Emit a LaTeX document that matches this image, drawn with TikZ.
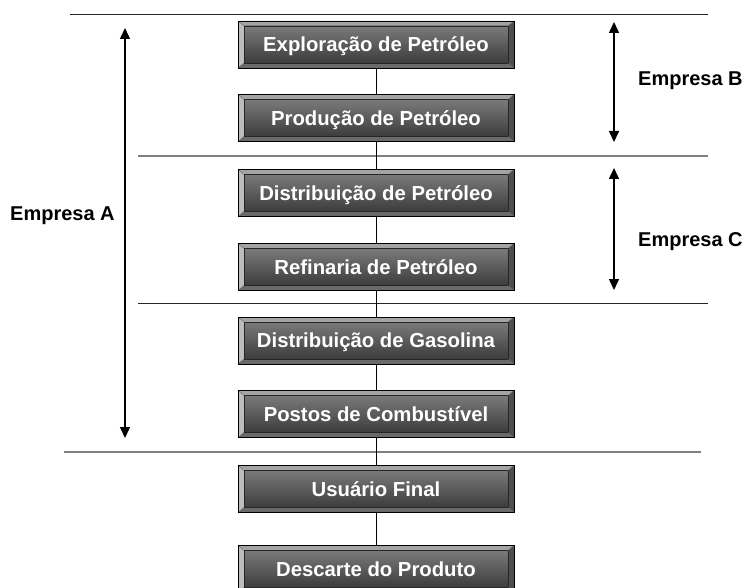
\documentclass[tikz,border=0pt]{standalone}
\usepackage{fontspec}
\setmainfont{Liberation Sans}
\usetikzlibrary{calc,arrows.meta}
\definecolor{bevTop}{HTML}{A4A4A4}
\definecolor{bevLeft}{HTML}{BDBDBD}
\definecolor{bevRight}{HTML}{4E4E4E}
\definecolor{bevBot}{HTML}{6A6A6A}
\definecolor{faceTop}{HTML}{7A7A7A}
\definecolor{faceMid}{HTML}{8E8E8E}
\definecolor{faceBot}{HTML}{3C3C3C}
\definecolor{sepgray}{HTML}{808080}
\tikzset{
  bev/.style={
    rectangle, draw=black, line width=0.8pt,
    minimum width=276pt, minimum height=47pt, inner sep=0pt,
    text height=14.6pt, text depth=0pt,
    text=white, font=\bfseries\fontsize{20.3}{23}\selectfont,
    path picture={
      \path (path picture bounding box.south west) coordinate (sw)
            (path picture bounding box.north east) coordinate (ne)
            (path picture bounding box.north west) coordinate (nw)
            (path picture bounding box.south east) coordinate (se);
      \path ($(sw)+(6pt,5pt)$) coordinate (isw)
            ($(ne)+(-6pt,-5pt)$) coordinate (ine)
            ($(nw)+(6pt,-5pt)$) coordinate (inw)
            ($(se)+(-6pt,5pt)$) coordinate (ise);
      \fill[bevTop] (nw) -- (ne) -- (ine) -- (inw) -- cycle;
      \fill[bevLeft] (nw) -- (inw) -- (isw) -- (sw) -- cycle;
      \fill[bevRight] (ne) -- (se) -- (ise) -- (ine) -- cycle;
      \fill[bevBot] (sw) -- (isw) -- (ise) -- (se) -- cycle;
      \shade[top color=faceTop, middle color=faceMid, bottom color=faceBot] (isw) rectangle (ine);
      \draw[line width=0.6pt, black!85] (isw) rectangle (ine);
      \draw[line width=0.4pt, black!60] (nw) -- (inw) (ne) -- (ine) (sw) -- (isw) (se) -- (ise);
    }},
  conn/.style={draw=black, line width=0.8pt},
  sepblack/.style={draw=black!85, line width=1pt},
  sepgrey/.style={draw=sepgray, line width=1.4pt},
  dbl/.style={{Triangle[width=10pt,length=11pt]}-{Triangle[width=10pt,length=11pt]}, line width=1.5pt},
  lab/.style={anchor=base west, inner sep=0pt, font=\bfseries\fontsize{20}{23}\selectfont}
}
\begin{document}
\begin{tikzpicture}[x=1pt, y=-1pt]
\useasboundingbox (0,0) rectangle (744,588);
% separator lines
\coordinate (l1a) at (70,15);  \coordinate (l1b) at (708,15);
\coordinate (l2a) at (138,156); \coordinate (l2b) at (708,156);
\coordinate (l3a) at (138,303); \coordinate (l3b) at (708,303);
\coordinate (l4a) at (64,452);  \coordinate (l4b) at (701,452);
\draw[sepblack] (l1a) -- (l1b);
\draw[sepgrey] (l2a) -- (l2b);
\draw[sepblack] (l3a) -- (l3b);
\draw[sepgrey] (l4a) -- (l4b);
% boxes
\node[bev] (b1) at (376,44.5) {Exploração de Petróleo};
\node[bev] (b2) at (376,118) {Produção de Petróleo};
\node[bev] (b3) at (376,193) {Distribuição de Petróleo};
\node[bev] (b4) at (376,267) {Refinaria de Petróleo};
\node[bev] (b5) at (376,340.5) {Distribuição de Gasolina};
\node[bev] (b6) at (376,414) {Postos de Combustível};
\node[bev] (b7) at (376,489) {Usuário Final};
\node[bev] (b8) at (376,569) {Descarte do Produto};
% connectors
\foreach \a/\b in {b1/b2,b2/b3,b3/b4,b4/b5,b5/b6,b6/b7,b7/b8}
  \draw[conn] (\a.south) -- (\b.north);
% arrows
\coordinate (aT) at (125,28);  \coordinate (aB) at (125,438);
\coordinate (bT) at (614,22);  \coordinate (bB) at (614,142);
\coordinate (cT) at (614,168); \coordinate (cB) at (614,290);
\draw[dbl] (aT) -- (aB);
\draw[dbl] (bT) -- (bB);
\draw[dbl] (cT) -- (cB);
% labels
\node[lab] (ea) at (10,221) {Empresa A};
\node[lab] (eb) at (638,86) {Empresa B};
\node[lab] (ec) at (638,246) {Empresa C};
\end{tikzpicture}
\end{document}
